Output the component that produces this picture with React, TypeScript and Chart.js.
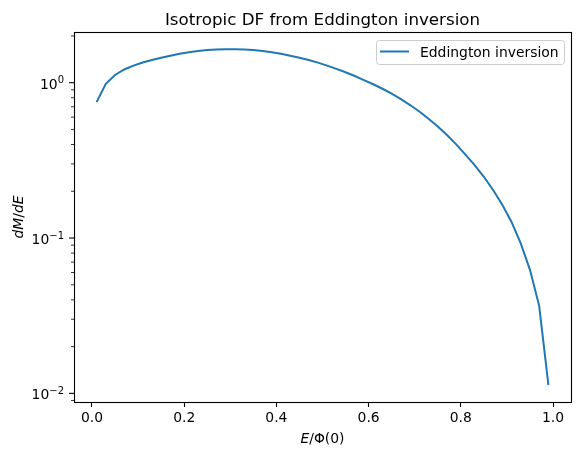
import React, { useEffect, useRef } from "react";
import { Chart, registerables } from "chart.js";

Chart.register(...registerables);

// Binding energy normalised by the central potential
const energy = [
  0.01, 0.03, 0.05, 0.07, 0.09, 0.11, 0.13, 0.15, 0.17, 0.19,
  0.21, 0.23, 0.25, 0.27, 0.29, 0.31, 0.33, 0.35, 0.37, 0.39,
  0.41, 0.43, 0.45, 0.47, 0.49, 0.51, 0.53, 0.55, 0.57, 0.59,
  0.61, 0.63, 0.65, 0.67, 0.69, 0.71, 0.73, 0.75, 0.77, 0.79,
  0.81, 0.83, 0.85, 0.87, 0.89, 0.91, 0.93, 0.95, 0.97, 0.99,
];

// Differential energy distribution dM/dE
const dMdE = [
  0.75, 0.984, 1.122, 1.216, 1.288, 1.349, 1.4, 1.449, 1.493, 1.535,
  1.57, 1.6, 1.622, 1.637, 1.644, 1.644, 1.637, 1.622, 1.6, 1.57,
  1.535, 1.493, 1.449, 1.4, 1.346, 1.288, 1.227, 1.167, 1.104, 1.04,
  0.977, 0.914, 0.849, 0.783, 0.718, 0.652, 0.586, 0.522, 0.46, 0.401,
  0.344, 0.295, 0.248, 0.204, 0.164, 0.127, 0.0923, 0.0624, 0.0366, 0.0113,
];

const xTicks = [0, 0.2, 0.4, 0.6, 0.8, 1.0];
const yDecades = [0.01, 0.1, 1];
const yDecadeExponents = ["\u22122", "\u22121", "0"];
const yMinorTicks = [
  0.009,
  0.02, 0.03, 0.04, 0.05, 0.06, 0.07, 0.08, 0.09,
  0.2, 0.3, 0.4, 0.5, 0.6, 0.7, 0.8, 0.9,
  2,
];

const titleText = "Isotropic DF from Eddington inversion";
const seriesLabel = "Eddington inversion";

const FONT = "'DejaVu Sans', 'Liberation Sans', sans-serif";
const LINE_COLOR = "#1f77b4";
const BASE = 13.9;

type Piece = [string, string];

function drawPieces(ctx: CanvasRenderingContext2D, pieces: Piece[], cx: number, baseline: number) {
  let total = 0;
  const widths = pieces.map(([t, f]) => {
    ctx.font = f;
    const w = ctx.measureText(t).width;
    total += w;
    return w;
  });
  let x = cx - total / 2;
  ctx.textAlign = "left";
  ctx.textBaseline = "alphabetic";
  pieces.forEach(([t, f], i) => {
    ctx.font = f;
    ctx.fillText(t, x, baseline);
    x += widths[i];
  });
}

const decorations = {
  id: "decorations",
  afterDraw(chart: any) {
    const { ctx, chartArea: a } = chart;
    const y = chart.scales.y;
    const normal = `${BASE}px ${FONT}`;
    const italic = `italic ${BASE}px ${FONT}`;
    ctx.save();
    ctx.fillStyle = "#000";
    ctx.strokeStyle = "#000";

    // axes frame
    ctx.lineWidth = 1.1;
    ctx.strokeRect(Math.round(a.left) + 0.5, Math.round(a.top) + 0.5,
      Math.round(a.right - a.left), Math.round(a.bottom - a.top));

    // y ticks, major and minor
    yDecades.forEach((v) => {
      const py = y.getPixelForValue(v);
      ctx.lineWidth = 1.1;
      ctx.beginPath();
      ctx.moveTo(a.left - 5, py);
      ctx.lineTo(a.left, py);
      ctx.stroke();
    });
    yMinorTicks.forEach((v) => {
      const py = y.getPixelForValue(v);
      ctx.lineWidth = 0.8;
      ctx.beginPath();
      ctx.moveTo(a.left - 3, py);
      ctx.lineTo(a.left, py);
      ctx.stroke();
    });

    // y tick labels as powers of ten
    const labelRight = a.left - 10;
    yDecades.forEach((v, i) => {
      const py = y.getPixelForValue(v);
      ctx.textBaseline = "alphabetic";
      ctx.textAlign = "right";
      ctx.font = `10px ${FONT}`;
      const exp = yDecadeExponents[i];
      const ew = ctx.measureText(exp).width;
      ctx.fillText(exp, labelRight, py + 0.8);
      ctx.font = normal;
      ctx.fillText("10", labelRight - ew, py + 6);
    });

    // title
    ctx.font = `16.7px ${FONT}`;
    ctx.textAlign = "center";
    ctx.textBaseline = "alphabetic";
    ctx.fillText(titleText, (a.left + a.right) / 2, 25);

    // x axis title
    drawPieces(ctx, [["E", italic], ["/\u03a6(0)", normal]], (a.left + a.right) / 2, 443);

    // y axis title
    ctx.save();
    ctx.translate(22.5, (a.top + a.bottom) / 2);
    ctx.rotate(-Math.PI / 2);
    drawPieces(ctx, [["dM", italic], ["/", normal], ["dE", italic]], 0, 0);
    ctx.restore();

    // legend
    const lx = 376, ly = 40, lw = 188, lh = 24;
    ctx.beginPath();
    ctx.roundRect(lx + 0.5, ly + 0.5, lw, lh, 3);
    ctx.fillStyle = "rgba(255,255,255,0.8)";
    ctx.fill();
    ctx.strokeStyle = "#cccccc";
    ctx.lineWidth = 1;
    ctx.stroke();
    ctx.strokeStyle = LINE_COLOR;
    ctx.lineWidth = 2;
    ctx.beginPath();
    ctx.moveTo(380, 51.5);
    ctx.lineTo(409, 51.5);
    ctx.stroke();
    ctx.fillStyle = "#000";
    ctx.font = normal;
    ctx.textAlign = "left";
    ctx.textBaseline = "alphabetic";
    ctx.fillText(seriesLabel, 420, 56.5);

    ctx.restore();
  },
};

export default function App() {
  const canvasRef = useRef<HTMLCanvasElement | null>(null);

  useEffect(() => {
    const canvas = canvasRef.current;
    if (!canvas) return;
    const chart = new Chart(canvas, {
      type: "line",
      data: {
        datasets: [
          {
            label: seriesLabel,
            data: energy.map((e, i) => ({ x: e, y: dMdE[i] })),
            borderColor: LINE_COLOR,
            backgroundColor: LINE_COLOR,
            borderWidth: 2,
            pointRadius: 0,
            tension: 0,
            fill: false,
          },
        ],
      },
      options: {
        responsive: false,
        animation: false,
        devicePixelRatio: 1,
        layout: { padding: { left: 0, right: 9, top: 32, bottom: 0 } },
        plugins: {
          legend: { display: false },
          tooltip: { enabled: false },
          title: { display: false },
        },
        scales: {
          x: {
            type: "linear",
            min: -0.039,
            max: 1.039,
            afterBuildTicks: (s: any) => {
              s.ticks = xTicks.map((v) => ({ value: v }));
            },
            afterFit: (s: any) => {
              s.height = 55;
            },
            grid: {
              drawOnChartArea: false,
              drawTicks: true,
              tickLength: 5,
              tickColor: "#000",
              tickWidth: 1.1,
            },
            border: { display: false },
            ticks: {
              color: "#000",
              font: { family: FONT, size: BASE },
              padding: 3,
              maxRotation: 0,
              autoSkip: false,
              callback: (v: any) => Number(v).toFixed(1),
            },
          },
          y: {
            type: "logarithmic",
            min: 0.0088,
            max: 2.12,
            afterBuildTicks: (s: any) => {
              s.ticks = yDecades.map((v) => ({ value: v }));
            },
            afterFit: (s: any) => {
              s.width = 74;
            },
            grid: { display: false },
            border: { display: false },
            ticks: { display: false },
          },
        },
      },
      plugins: [decorations],
    });
    return () => chart.destroy();
  }, []);

  return (
    <div style={{ position: "fixed", left: 0, top: 0, width: 580, height: 457, background: "#fff" }}>
      <canvas ref={canvasRef} width={580} height={457} style={{ display: "block" }} />
    </div>
  );
}
